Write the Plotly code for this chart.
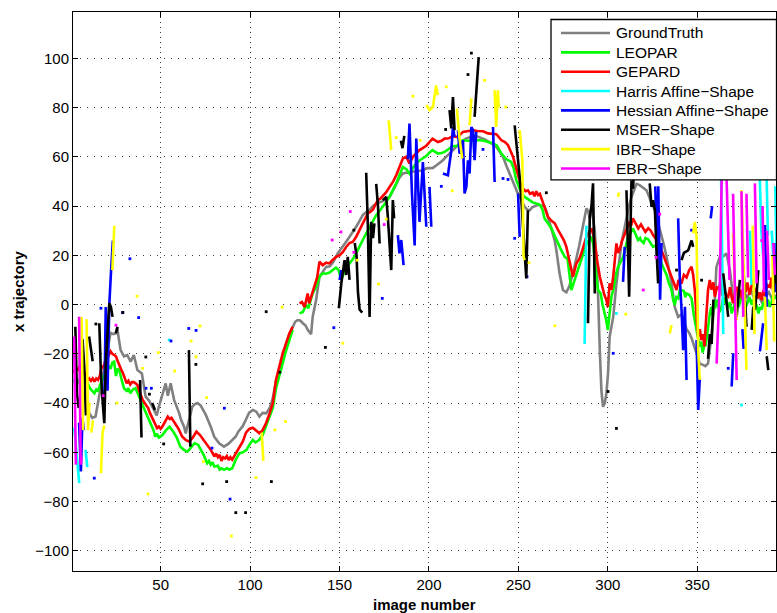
import plotly.graph_objects as go

# ---------------------------------------------------------------------------
# Trajectories: (image number, x position). None marks a break in a curve.
# ---------------------------------------------------------------------------
GROUND_TRUTH = [
    (9, -43), (10, -44), (11.8, -46), (13.6, -45.5), (14.6, -41.5), (16, -35), (18, -28), (20, -20),
    (22, -11.5), (23.5, -12), (24.8, -11.7), (25.7, -9.5), (27.6, -18.5), (29.5, -21), (31.3, -20.5),
    (33.2, -23.2), (35, -20.5), (37, -26.6), (39.5, -28), (41.6, -37.4), (43.5, -39), (46.3, -42.8),
    (47.8, -45), (48.8, -42), (51, -36), (52.8, -32), (54, -37), (55.6, -32), (57.5, -38.7), (58.8, -41),
    (60.3, -44), (61.5, -47), (63.1, -49.6), (64, -52.3), (65.8, -46.5), (67.7, -41.5), (69, -40.5),
    (70.5, -40), (72.4, -41), (75.2, -44.7), (78, -49.6), (79.9, -53.6), (82.7, -56.3), (85.4, -57.7),
    (88, -56.5), (90, -55), (92, -53.6), (93.5, -51.5), (95.7, -49.6), (97.5, -47), (99.4, -44),
    (101.5, -42.8), (103.5, -43.5), (105.2, -45.5), (107, -44), (109, -44.2), (111, -42), (112.7, -38),
    (114.5, -31), (116.4, -26), (118.2, -21), (120.2, -16), (122, -12), (123.8, -9), (125.2, -7),
    (126.6, -6.3), (128, -6.5), (129.5, -7.6), (131, -8.5), (132.2, -10.3), (134.1, -12), (135, -4.9),
    (136.9, 1.8), (138.8, 11.3), (140.6, 13.5), (142.5, 15.3), (144.5, 15.5), (146.2, 17), (149, 20.8),
    (151.8, 23.4), (153.7, 25.5), (155.6, 27.5), (157.5, 29.5), (159.3, 31.6), (161.2, 34), (163, 36.3),
    (164.8, 37.5), (166.8, 38.5), (168.7, 40), (170.5, 41), (172.4, 41.5), (174.2, 42), (176, 43),
    (178, 43.7), (180, 46.5), (181.7, 49.2), (183.5, 51.5), (185.4, 53.2), (187.2, 53.5), (189.1, 53.5),
    (191, 54), (192.9, 54), (194.7, 54.3), (196.6, 54.5), (198.5, 55.3), (200.3, 55.5), (202.2, 55.5),
    (204, 56.5), (205.9, 57.5), (207.8, 58.6), (209.6, 60), (211.5, 61.3), (213.4, 62.5), (215.2, 63.8),
    (217.1, 65.3), (219, 66.7), (220.9, 67.5), (222.7, 68), (224.6, 68.3), (226.4, 68.4), (228.3, 68),
    (230.2, 67.4), (232, 66.8), (233.9, 66), (235.8, 65), (237.7, 64), (239.5, 62.2), (241.4, 60),
    (243.2, 56.5), (245, 53.2), (246.5, 50.5), (247.9, 47.7), (249.3, 45.7), (250.7, 43.7), (252, 41.5),
    (253.5, 39.7), (255, 38.5), (256.3, 38.3), (257.7, 39.5), (259.2, 40), (261, 40.5), (262.8, 40.2),
    (264.6, 40), (265.6, 38), (266.5, 35.6), (268, 32), (269.3, 28.9), (270.3, 26), (271.2, 22.1),
    (272.1, 17), (273, 12.7), (274, 9), (274.9, 5.9), (276.8, 5), (278.5, 7.5), (280.5, 12.7),
    (282.3, 18), (284, 24), (286, 31.6), (288, 39), (289, 38), (289.9, 35), (290.8, 40), (291.7, 36),
    (292.7, 30.2), (293.6, 18), (294.5, 4.5), (295.5, -18.5), (296.4, -35), (297.3, -41.5),
    (298.3, -40), (299.2, -36), (300.1, -28), (301, -13), (302, -9), (303, -5), (304.8, 8.6),
    (306.2, 17), (307.6, 24.8), (309, 30), (310.4, 35.6), (311.8, 40), (313.2, 43.7), (314.6, 46.5),
    (316, 49), (317.8, 48.5), (319.6, 47.5), (321.6, 46.4), (323, 44), (324.4, 41), (326.2, 38.5),
    (328, 33.5), (330, 28.9), (331.4, 24), (332.8, 19.4), (334.2, 14), (335.6, 8.6), (337.4, -1),
    (339.3, -5), (341.2, -4), (342.5, -6.5), (344, -10), (345.5, -11.5), (347, -14), (348.3, -17),
    (349.6, -19.8), (351.4, -24), (353.2, -24.5), (354.5, -25), (356, -23.9), (357, -19), (357.9, -13),
    (358.9, -5), (359.8, 1.8), (360.7, 15.3), (362.6, 19.4), (364.5, 19.5), (366.3, 20.8), (368.2, 14),
    (370, 3.2), (372, 4), (374, 2), (376, 5), (378, 3), (380, 6), (382, 2), (384, 4), (386, 1),
    (388, 3), (390, 5), (392, 2), (394, 4),
]

LEOPAR = [
    (1, -30.6), (2, -31.5), (3, -30.5), (4, -31.5), (5, -30), (6, -29), (7, -27.9), (8, -30),
    (9, -32), (10, -33.3), (11, -34.5), (12, -35.5), (13, -36), (14, -34.5), (15, -35), (16, -33),
    (17, -31), (18, -29.3), (19, -28), (20, -26.5), (21, -25.2), (22, -26), (23, -23.5), (24, -23.2),
    (25, -29), (26, -26), (27, -27), (28, -30), (29.5, -34), (31, -35), (32, -34), (33, -36),
    (34.5, -34.5), (36, -34), (37, -35.5), (38, -37.4), (40, -41), (41.5, -43.5), (43.5, -47.5),
    (45, -50), (46, -51), (47, -53.6), (48, -52.5), (49, -54), (51, -53), (53, -51), (55, -49.6),
    (57, -51.5), (59, -54), (61, -57.7), (63, -59), (65, -59.7), (67, -58), (69, -56.3), (71, -57),
    (72.5, -59), (74, -61), (76, -64.4), (77, -63.5), (78, -65), (79, -64), (80, -65.8), (82, -65.5),
    (83, -67), (84, -66.5), (85.5, -67.1), (87, -66.5), (88.5, -67), (90, -66.5), (92, -63),
    (94, -60.4), (96, -60), (98, -59), (100, -56.5), (101.5, -55), (103, -56), (105, -55), (107, -53),
    (109, -49), (111, -45), (112.7, -42), (114.5, -34), (116.5, -29), (118.2, -23.9), (120, -19),
    (122, -14.4), (123.8, -10.3), None,
    (127.6, -3.6), (129.5, -3), (131.3, -0.2), (132.5, -1.5), (135, 4.5), (136.9, 7.2), (138.8, 11.3),
    (140.6, 12.7), (142.5, 12.5), (144.4, 13), (146.2, 14), (148, 15), (149.5, 14), (151, 10),
    (152.5, 13), (153.7, 15.3), (155.6, 16.7), (157.5, 18.5), (159.3, 20.8), (161, 23), (163, 26.2),
    (165, 29), (166.8, 31.6), (168.7, 34), (170.5, 36.3), (172.3, 38), (174.2, 39.7), (176, 41.5),
    (178, 43.8), (180, 46.5), (181.7, 49.2), (183.5, 52.5), (185.4, 55.9), (187.3, 55), (189.1, 53.2),
    (191, 55.5), (192.9, 57.3), (194.7, 58.5), (196.6, 59.3), (198.5, 60.3), (200.3, 61.8), (202, 62.7),
    (205, 61.3), (207, 61.5), (208.7, 62), (211, 63), (213.4, 64.3), (216, 64.5), (219, 66.7),
    (222, 66.5), (225, 66.8), (228.4, 66.7), (231, 66.5), (233, 66), (235.9, 65.4), (238, 64.5),
    (240.5, 61.3), (243.3, 59), (246, 57.9), (247.5, 55), (248.8, 50.5), (250.7, 47), (252, 45),
    (253.5, 43.7), (256, 42.5), (258, 41.5), (260, 41), (262, 40.5), (263.5, 38.5), (264.6, 35),
    (266.5, 33), (268.4, 31), (270.2, 28), (272.1, 24.8), (274, 22), (275.9, 19.4), (277.5, 18.5),
    (279.6, 5.9), (281, 9), (282.4, 12.7), (284, 16), (286, 20.8), (287.5, 23.5), (288.9, 25.5),
    (290.8, 27.5), (292, 24), (292.7, 17), (294.5, 5.9), (296, 4.5), (297, 0), (298.3, -3.6),
    (299, -6), (300, -10.3), (301, -2), (302, 3.2), (303, 6), (303.8, 10), (304.8, 13), (305.7, 15.3),
    (307, 17), (308.6, 19.4), (310, 23.5), (311.3, 27.5), (312.5, 29), (314.1, 30.9), (315.5, 28.5),
    (316.9, 26.2), (318, 27), (318.5, 26), (320, 25), (321, 27), (322.5, 26.5), (323.8, 25),
    (325.3, 23.4), (327, 24), (328.5, 22.5), (330, 16.7), (331.5, 14), (332.8, 12), (334, 9),
    (335.6, 5.9), (336.5, 2), (337.4, -0.2), (338.3, 3), (339.3, 2.5), (340.3, 6), (341.2, 5.9),
    (342.5, 5.5), (343.3, 3), (344, 4.5), (345.5, 4), (346.8, 2.5), (348, -4), (349.6, -11.7),
    (350.5, -14), (351.4, -17.1), (352.2, -15), (353, -19.5), (354, -16), (354.5, -17), (355.5, -12.5),
    (357, -3.6), (357.8, -1), (358.5, -4.5), (359.3, 1), (360, -1.5), (360.8, 2), (361.6, 0),
    (362.5, -3), (363.5, -1), (364.3, 2), (365, 0.5), (366, 3), (367, -1.5), (368.2, 1), (369.2, -3.6),
    (370.5, -0.5), (371.2, 3), (372, 2.5), (373, -1), (374, 1), (375, 4), (376, 2.5), (377, -1),
    (378, 0.5), (379.2, 3), (380.4, 0), (381.2, 2), (382, -1.5), (383, 0), (384.2, -3.6), (385, -1),
    (386, -2), (387, 1), (388, -0.5), (389.5, 2), (390.5, -1), (391.6, 1), (392.3, 4), (393, 2.5),
    (394.3, 3),
]

GEPARD = [
    (1, -26.6), (2, -27.5), (3, -26), (4, -26.5), (5, -24.5), (6, -24.5), (7, -27), (8, -29),
    (9, -30.6), (10, -30), (11, -31), (12, -30), (13, -31.3), (14, -30), (15, -30.6), (16, -29),
    (17, -25.2), (18, -25.5), (19, -23), (20, -22), (21, -20.5), (22, -19), (23, -20), (24, -20.5),
    (25, -21), (26, -23), (27, -25.2), (28, -26.5), (29, -28), (30, -30.5), (31, -32), (32, -31),
    (33, -32.5), (34, -31.5), (35, -31.5), (36, -32), (37, -32.7), (38, -35), (39, -36.5), (40, -38.7),
    (42, -41), (43, -42), (44, -44), (46, -47.5), (47, -49), (48, -50.2), (49, -49.5), (50, -50.5),
    (51, -49.5), (52, -48), (54, -45.5), (55, -46.5), (56, -46), (58, -48.2), (60, -50.5), (62, -53.6),
    (64, -55), (66, -55.7), (68, -54), (70, -51.6), (72, -53), (74, -55), (76, -57), (78, -59),
    (80, -61.7), (81, -60.5), (82, -62), (83, -61), (84, -63.5), (85, -62), (86, -62.5), (87, -61.5),
    (88, -63.1), (89, -62), (90, -63), (92, -60.4), (94, -57.7), (96, -55.5), (97.7, -52),
    (99.5, -50.5), (101.5, -50), (103.4, -51), (105.2, -52.3), (107, -51), (109, -48), (111, -44),
    (112.7, -40), (114.5, -30.5), (116.4, -25), (118.2, -19.8), (120, -16), (122, -11.7), (123.8, -9),
    None,
    (127.6, 0.5), (129, 1), (130.5, -1), (132.2, 4.5), (133, 0.5), (134.5, 4), (136, 7.2), (137.5, 11),
    (138.8, 17.4), (140.6, 16), (142.5, 17), (144.4, 16.7), (146, 18), (148.1, 19.4), (150, 20),
    (152, 21.5), (153.7, 23.4), (155.6, 25), (157.5, 25.5), (159.3, 27.5), (161, 30), (163, 33),
    (164.5, 35), (165.8, 37), (167, 37.5), (168.6, 38.5), (170, 40.5), (171.4, 42.4), (172.8, 43),
    (174.2, 44), (176, 45.5), (178, 47.8), (180, 50), (181.7, 52.5), (183.5, 56), (185.4, 59.3),
    (187.3, 60), (189.1, 57.3), (191, 60), (193, 61.5), (194.7, 62.7), (196.5, 63.5), (198.5, 64.5),
    (200.3, 66), (202, 67.4), (205, 66), (207, 66.5), (208.7, 67.4), (211, 67.5), (213.4, 68.4),
    (216, 68), (219, 70.1), (222, 70.5), (224.6, 70.8), (227, 70.5), (230.2, 70.4), (233, 69.5),
    (235, 69.5), (237.7, 69.2), (240.5, 66.7), (242.5, 66), (244.2, 64.7), (246, 62), (247, 60),
    (248.5, 56), (249.8, 52.5), (251, 49.5), (252.6, 47.1), (254, 46), (255.3, 46.4), (256.5, 45),
    (258, 45.5), (259, 44), (260, 46), (261, 44.5), (262, 45), (263.7, 41.7), (265, 38.5),
    (266.5, 35.6), (268.5, 34), (270.3, 33), (272, 30.5), (274, 28.2), (275.5, 26), (276.8, 23.4),
    (278, 19), (279.6, 14), (280.5, 11.3), (282.4, 16.7), (284, 18.5), (285.2, 20.8), (287, 25),
    (288, 27.5), (289.5, 29.5), (290.8, 30.9), (292, 28), (292.7, 25.5), (294, 18), (295.5, 11.3),
    (297, 7), (298, 4), (299.2, 1.8), (300, -1), (301, 8.6), (302, 6), (303, 11.3), (304, 18),
    (304.8, 24.8), (305.7, 21), (306.7, 22.5), (308, 26), (309.5, 28.9), (311, 31), (312.2, 33.6),
    (313, 32), (314, 35), (315.5, 33), (317, 30.9), (318.5, 32.5), (319.8, 31), (321, 29.5),
    (322.6, 31), (324, 30), (325.3, 28.2), (326.5, 27), (328, 25.5), (330, 22), (331.5, 19),
    (332.8, 16.7), (334, 14), (335.6, 11.3), (337, 8), (338.4, 5.9), (339.5, 10), (341.2, 8.6),
    (342.5, 12), (344, 11), (345.5, 14), (346.8, 15.3), (347.7, 12), (348.6, 5.9), (349.5, -4),
    (350.5, -13), (351.4, -10), (352.3, -14.4), (353.2, -12), (354, -17), (355, -5), (356, 5.9),
    (357, 10), (358, 6), (359, 9), (359.8, 3.2), (361, 7), (362, 6.5), (363, 9), (364, 3.5), (365, 6),
    (366, 4), (367.3, 3.2), (368.3, 7), (369.2, 3), (370, 0.5), (371, 5), (372, 7.2), (373, 3),
    (374, 6), (375, 2.5), (376, 8), (377, 5), (378, 9), (379.2, 4), (380.4, 7.2), (381.2, 10),
    (382, 5), (383, 6.5), (384, 2.5), (385, 5), (386, 1.8), (387, 6), (388, 3.5), (389, 8),
    (390.6, 7.2), (391.5, 11), (392.5, 5), (393.5, 9), (394.3, 6),
]

# Shape-based detectors: short tracked runs (segments) plus single detections (dots)
HARRIS_SEGS = [
    [(1.7, -50), (3, -62), (4.5, -72.5)],
    [(8, -59), (9, -66)],
    [(287, -16), (288, 32)],
    [(363.3, 52), (364.5, -12)],
    [(379.5, 30), (380.3, 8)],
    [(384.8, 55), (385.8, 30), (386.8, 20)],
    [(388.5, 60), (389.5, 28)],
    [(391.6, 30), (392.5, 19)],
    [(393.6, 48), (394.3, 20)],
]
HARRIS_DOTS = [(54.8, -14.4), (304.8, -3.6), (374.7, -40.8)]

HESSIAN_SEGS = [
    [(4.4, -48), (5.4, -67.8), (6.3, -46), (7, -51)],
    [(18.5, -40), (19.3, -1), (20.3, -35), (21.3, 0), (22.3, 14), (23.3, 26)],
    [(150, 10), (151, 14)],
    [(182.6, 28.2), (183.5, 20.8), (184.5, 26.2), (185.8, 16)],
    [(188.2, 59), (189.1, 73.5), (190.5, 45), (192, 24), (192.9, 67.4), (194.7, 33.6), (196.6, 57.9),
     (198.5, 31.6)],
    [(200.3, 47.8), (201.3, 31.6)],
    [(207.8, 53.2), (210.6, 52.5), (212.5, 62.7), (213.4, 72.1), (214.3, 68)],
    [(216.2, 70.8), (217.1, 61.3), (219, 66.7), (219.9, 45.1), (220.9, 47.8), (221.8, 58.6),
     (222.7, 53.2), (223.7, 72.1), (224.6, 70.8), (225.5, 58.6), (226.4, 70.1)],
    [(235.8, 72.1), (236.7, 49.8)],
    [(249.8, 45.1), (250.7, 27.5)],
    [(308.5, 9.2), (309.4, 23.4)],
    [(326.5, 48), (327.5, 20), (328.2, 48), (329.2, 2), (330, 25)],
    [(339.3, 35), (340.2, 11.3), (341.2, -2.2), (342.1, -18.5), (343.1, -0.9), (344, -30.6)],
    [(349.6, -14.4), (350.5, -42.8), (351.4, -30)],
    [(357.5, 35), (358.3, 40)],
    [(369.2, -33.3), (370.1, -19.8)],
    [(375.2, -10), (375.9, -18)],
    [(385, -19), (386.8, -7.6)],
    [(387.8, 32.3), (388.8, -0.9)],
    [(393, 25), (394, 5)],
]
HESSIAN_DOTS = [
    (12.9, -70.5), (16.6, -1.5), (28.7, -3.3), (32.8, 18.6), (37.7, -5.3), (41.8, -34), (44.8, -34),
    (55.8, -14.8), (65.7, -9.7), (69.8, -10.5), (78.7, -58.3), (85.6, -42.1), (88.8, -79),
    (146.8, -9.4), (173.9, 2.5), (206.9, 48), (230.2, 63), (241.4, 51.2), (244.2, 50.8), (247.9, 26.9),
    (254.8, 11.3), (303, -19.8), (346.8, 30.2), (367.3, -25.9),
]

MSER_SEGS = [
    [(2.3, -9), (3.2, -36), (4.2, -42)],
    [(6.3, -14), (7.3, -25), (8.2, -45)],
    [(10, -13), (11, -19), (12, -23)],
    [(15.7, -7.6), (16.6, -28), (17.5, -38.7), (18.5, -48.2), (19.4, -22.5), (20.3, -9), (21.3, 0.5),
     (22.2, -0.9), (23.1, -5)],
    [(25, -11.7), (25.9, -9)],
    [(38.5, -30.6), (39.3, -54)],
    [(45.3, -40), (46.8, -42.8)],
    [(65.8, -18.5), (66.6, -57.7)],
    [(149.6, -1.5), (151, 8.6), (152.8, 18), (153.7, 12), (154.6, 19.4), (155.6, 10)],
    [(158.5, 25), (159.5, 20), (160.3, 5), (161.2, -2), (162.7, -3.3)],
    [(164.9, 53.5), (165.8, 33), (166.8, -5), (167.7, 33.6), (168.7, 27), (169.5, 33)],
    [(170.5, 49), (171.5, 40), (172.4, 24.8)],
    [(174.2, 42.4), (176.1, 43.7), (177, 35.6), (178.9, 14), (179.8, 42.4), (180.5, 35)],
    [(184.3, 66.5), (185.2, 63.5), (186.2, 68.5)],
    [(211.5, 79), (212.5, 71.5), (213.4, 84.3), (214.3, 70.8)],
    [(225.5, 76.2), (227.8, 100.5)],
    [(247.9, 72.8), (249.8, 60), (250.7, 51.8), (251.6, 43), (252.6, 30), (254.4, 10.6), (255.3, 38.3)],
    [(288.9, -7.6), (289.9, 35.6), (290.8, 39.7), (291.7, 49.2), (292.7, 4.5)],
    [(310.4, 46.4), (311.5, 20), (311.9, 3.2), (313.2, 50.5), (314.1, 47), (315, 62.7)],
    [(323.4, 49.2), (324.4, 39.7), (325.3, 42.4), (326.3, 38.3), (327.2, 22.1), (328.1, 8.6)],
    [(341.2, 18), (342.5, 21), (344.9, 22), (346.8, 26), (347.7, 23.4)],
    [(356, -22), (357, -12), (358, -16), (359, 2)],
    [(364.5, 12.7), (366.4, -0.9), (367.3, -5)],
    [(372, -5), (372.9, 4.5), (373.8, 10)],
    [(375.7, 16), (376.6, 1.8), (377.5, -9)],
    [(380.4, -10.3), (381.3, -0.9), (382.2, -2.2), (383.2, 4.5), (384.1, 14)],
    [(388.8, -21), (389.7, -26.6)],
    [(392.5, 4.5), (393.4, 14), (394.3, 8.6)],
]
MSER_DOTS = [
    (13.8, -7.9), (28.9, -3.2), (41.7, -21.3), (43.7, -36.4), (51.7, -56.6), (69.7, -24.3),
    (73.5, -72.8), (86.9, -71.9), (92, -84.5), (97.5, -84.5), (109, -2.9), (111.9, -71.9),
    (116.6, -27.5), (142.1, -17.4), (158, 30.2), (209.3, 71.1), (221.8, 93.4), (223.7, 102.1),
    (265.6, 45.4), (300.1, -35.3), (304.8, -50.3), (338.4, 14), (352.4, 9.9),
]

IBR_SEGS = [
    [(5.8, -5), (6.6, -51)],
    [(8.6, -6), (9.4, -51), (10.2, -40)],
    [(11.2, -52), (12.2, -47)],
    [(16.6, -68.5), (17.5, -52.3), (18.5, -49)],
    [(23, 14), (23.5, 25), (24.1, 32)],
    [(106.5, -52), (107.4, -63.5)],
    [(177.5, 74.8), (178.9, 62.7)],
    [(198.5, 81), (200.3, 79), (202.2, 80.2), (203.1, 85.7), (204, 89), (204.9, 85)],
    [(215.6, 79.6), (217, 68), (218.6, 59.3)],
    [(222.7, 72.8), (223.7, 83.7)],
    [(236.7, 87), (237.6, 72.1), (238.5, 87), (239, 80)],
    [(250.7, 70.8), (252.2, 58.6), (252.9, 19.4), (253.5, 18)],
    [(305.7, 43.7), (306.2, 45.5)],
    [(334.6, -11.7), (335.6, -8.3)],
    [(347.7, 28.9), (348.6, 33.6), (349.6, 27.5), (350.5, -18.5), (351.4, -30.6)],
    [(370, 28.9), (371, 5.9), (372, -6.3)],
    [(374.7, 46.4), (375.7, 16.7), (377.5, -26.6)],
    [(381, 32), (382, -12)],
    [(387.8, 3.2), (388.8, -18.5)],
    [(392, 20), (393, -15)],
]
IBR_DOTS = [
    (25.6, -40), (36.8, 3.4), (39.9, -25.9), (42.9, -76.9), (48.7, -19.5), (57.8, -27), (67, -14.8),
    (69.8, -21.2), (72, -8.7), (73.9, -63.8), (75.7, -37.8), (89.5, -94), (103.3, -70.3),
    (113.8, -50.9), (117.9, -1.1), (119.8, -47.5), (151.8, -15.7), (159.8, 18), (171.8, 8.3),
    (176.1, 34.7), (181.7, 67.8), (191, 84.6), (195.1, 66.7), (209.7, 88.4), (213, 46.2), (231.1, 91),
    (242.9, 80.2), (255.9, 17), (270.3, -8.6), (310, -3.9),
]

EBR_SEGS = [
    [(1.6, -13), (2.6, -65)],
    [(4.4, -5), (5.3, -65), (5.8, -62)],
    [(360.8, -24), (362.6, 8.6), (363.6, 50.5)],
    [(366.4, 50.5), (367.3, 28.9), (368, 10)],
    [(370, 45), (372, -30.6)],
    [(374.7, 46), (375.7, -5)],
    [(377.5, 45), (378.4, 11)],
    [(382.2, 49.2), (383.2, 8.6)],
    [(386.5, 40), (387.3, 5)],
    [(389, 30), (390, 10)],
    [(392.5, 25), (393.4, 12)],
]
EBR_DOTS = [
    (17.9, -37), (25, -8.4), (145.9, 26.2), (150.8, 29.5), (156, 37.8), (158, 21.2), (175, 32.5),
    (319.8, 5.9), (327, 19.1), (329, 36.7), (386, 26),
]

X_TICKS = [50, 100, 150, 200, 250, 300, 350]
Y_TICKS = [-100, -80, -60, -40, -20, 0, 20, 40, 60, 80, 100]
X_RANGE = [1, 394]
Y_RANGE = [-108.2, 118.8]

SERIES = [
    ("GroundTruth", "#808080"),
    ("LEOPAR", "#00ff00"),
    ("GEPARD", "#ff0000"),
    ("Harris Affine\u2212Shape", "#00ffff"),
    ("Hessian Affine\u2212Shape", "#0000ff"),
    ("MSER\u2212Shape", "#000000"),
    ("IBR\u2212Shape", "#ffff00"),
    ("EBR\u2212Shape", "#ff00ff"),
]


def unzip(points):
    xs, ys = [], []
    for p in points:
        if p is None:
            xs.append(None)
            ys.append(None)
        else:
            xs.append(p[0])
            ys.append(p[1])
    return xs, ys


def chain(segments):
    pts = []
    for seg in segments:
        pts.extend(seg)
        pts.append(None)
    return unzip(pts)


LINE_W = 2.6
fig = go.Figure()

curves = [GROUND_TRUTH, LEOPAR, GEPARD]
for (name, color), pts in zip(SERIES[:3], curves):
    xs, ys = unzip(pts)
    fig.add_trace(go.Scatter(x=xs, y=ys, mode="lines", name=name, showlegend=False,
                             line=dict(color=color, width=LINE_W), connectgaps=False))

detectors = [(HARRIS_SEGS, HARRIS_DOTS), (HESSIAN_SEGS, HESSIAN_DOTS), (MSER_SEGS, MSER_DOTS),
             (IBR_SEGS, IBR_DOTS), (EBR_SEGS, EBR_DOTS)]
for (name, color), (segs, dots) in zip(SERIES[3:], detectors):
    xs, ys = chain(segs)
    fig.add_trace(go.Scatter(x=xs, y=ys, mode="lines", name=name, showlegend=False,
                             line=dict(color=color, width=LINE_W), connectgaps=False))
    dx, dy = unzip(dots)
    fig.add_trace(go.Scatter(x=dx, y=dy, mode="markers", name=name, showlegend=False,
                             marker=dict(color=color, size=2.8, symbol="square", line=dict(width=0))))

# ---------------------------------------------------------------------------
# Layout (pixel geometry of the 777 x 613 canvas)
# ---------------------------------------------------------------------------
W, H = 777, 613
L, R, T, B = 73, 1, 11.5, 42
PW, PH = W - L - R, H - T - B


def px_x(px):
    return (px - L) / PW


def px_y(py):
    return 1 - (py - T) / PH


FONT = "Liberation Sans, Arial, Helvetica, sans-serif"

axis_common = dict(
    showline=True, linecolor="black", linewidth=1, mirror="ticks",
    ticks="inside", ticklen=5, tickwidth=1, tickcolor="black",
    showgrid=True, gridcolor="#3a3a3a", gridwidth=1,
    zeroline=False, tickfont=dict(family=FONT, size=15, color="black"),
)

fig.update_xaxes(range=X_RANGE, tickvals=X_TICKS, griddash="1px,4px", **axis_common)
fig.update_yaxes(range=Y_RANGE, tickvals=Y_TICKS, griddash="1px,6px",
                 tickformat="d", **axis_common)

annotations = [
    dict(text="<b>image number</b>", xref="paper", yref="paper", x=0.5, y=px_y(605),
         xanchor="center", yanchor="middle", showarrow=False,
         font=dict(family=FONT, size=15, color="black")),
    dict(text="<b>x trajectory</b>", xref="paper", yref="paper", x=px_x(18.5), y=0.5,
         xanchor="center", yanchor="middle", textangle=-90, showarrow=False,
         font=dict(family=FONT, size=15, color="black")),
]

# Legend box drawn in the upper-right corner of the axes
shapes = [dict(type="rect", xref="paper", yref="paper", layer="above",
               x0=px_x(551), x1=px_x(776.5), y0=px_y(179.5), y1=px_y(19),
               fillcolor="white", line=dict(color="black", width=1.3))]
ROW0, ROW_STEP = 32.5, 19.37
for i, (name, color) in enumerate(SERIES):
    cy = px_y(ROW0 + i * ROW_STEP)
    shapes.append(dict(type="line", xref="paper", yref="paper", layer="above",
                       x0=px_x(561), x1=px_x(610), y0=cy, y1=cy,
                       line=dict(color=color, width=LINE_W)))
    annotations.append(dict(text=name, xref="paper", yref="paper", x=px_x(614), y=cy,
                            xanchor="left", yanchor="middle", showarrow=False,
                            font=dict(family=FONT, size=15.5, color="black")))

fig.update_layout(
    width=W, height=H,
    margin=dict(l=L, r=R, t=T, b=B, pad=0),
    paper_bgcolor="white", plot_bgcolor="white",
    showlegend=False,
    shapes=shapes, annotations=annotations,
    font=dict(family=FONT, color="black"),
)

fig.write_html("out.html")
